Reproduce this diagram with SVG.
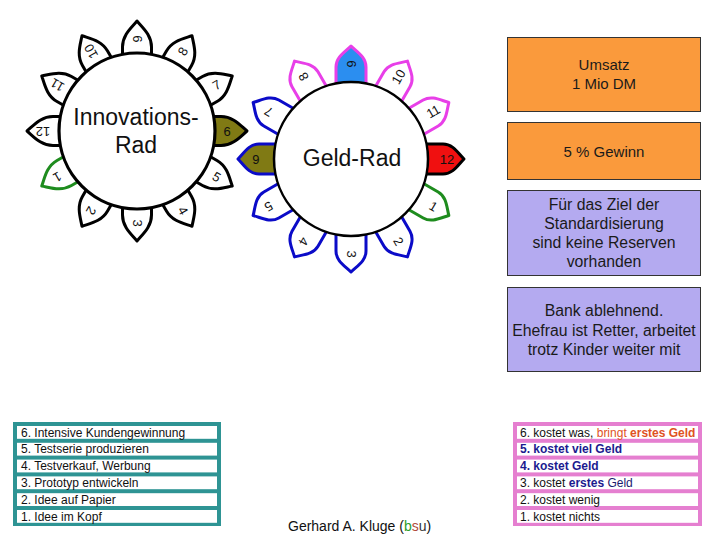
<svg xmlns="http://www.w3.org/2000/svg" width="720" height="540" viewBox="0 0 720 540">
<style>
text{font-family:"Liberation Sans",Arial,sans-serif}
.pl{fill:#fff;stroke:#000;stroke-width:3;stroke-linejoin:round}
.pg{fill:#fff;stroke:#0b0bc8;stroke-width:3;stroke-linejoin:round}
.num{font-size:13px;fill:#111;text-anchor:middle;dominant-baseline:central}
.big{font-size:23px;fill:#111;text-anchor:middle}
.box{stroke:#333;stroke-width:1}
.or{fill:#fa9a3c}
.lv{fill:#b4aaf0}
.bt{font-size:15px;fill:#1a1a1a;text-anchor:middle}
.bt2{font-size:15.8px;fill:#1a1a1a;text-anchor:middle}
.cell{fill:#fff}
.tt{font-size:12px;fill:#111}
.nv{fill:#1b1b8f;font-weight:bold}
.rd{fill:#e0521f}
</style>
<defs>
<path id="petalL" d="M40,-14.5 L84,-14.5 C96,-14.5 103,-6 110,0 C103,6 96,14.5 84,14.5 L40,14.5 Z"/>
<path id="petalG" d="M40,-15 L92,-15 C102,-15 107,-6 113,0 C107,6 102,15 92,15 L40,15 Z"/>
</defs>

<g id="innovations-rad" transform="translate(137,131)">
<use href="#petalL" class="pl" transform="rotate(150)" style="stroke:#1e8c1e"/>
<use href="#petalL" class="pl" transform="rotate(120)"/>
<use href="#petalL" class="pl" transform="rotate(90)"/>
<use href="#petalL" class="pl" transform="rotate(60)"/>
<use href="#petalL" class="pl" transform="rotate(30)"/>
<use href="#petalL" class="pl" transform="rotate(0)" style="fill:#807a14"/>
<use href="#petalL" class="pl" transform="rotate(-30)"/>
<use href="#petalL" class="pl" transform="rotate(-60)"/>
<use href="#petalL" class="pl" transform="rotate(-90)"/>
<use href="#petalL" class="pl" transform="rotate(-120)"/>
<use href="#petalL" class="pl" transform="rotate(-150)"/>
<use href="#petalL" class="pl" transform="rotate(180)"/>
<circle r="78" fill="#fff" stroke="#000" stroke-width="3.2"/>
<text class="num" transform="rotate(150) translate(92,0)">1</text>
<text class="num" transform="rotate(120) translate(92,0)">2</text>
<text class="num" transform="rotate(90) translate(92,0)">3</text>
<text class="num" transform="rotate(60) translate(92,0)">4</text>
<text class="num" transform="rotate(30) translate(92,0)">5</text>
<text class="num" transform="rotate(0) translate(90,0)">6</text>
<text class="num" transform="rotate(-30) translate(92,0)">7</text>
<text class="num" transform="rotate(-60) translate(92,0)">8</text>
<text class="num" transform="rotate(-90) translate(92,0)">9</text>
<text class="num" transform="rotate(-120) translate(92,0)">10</text>
<text class="num" transform="rotate(-150) translate(92,0)">11</text>
<text class="num" transform="rotate(180) translate(94,0)">12</text>
<text class="big" x="-1" y="-6">Innovations-</text>
<text class="big" x="-1" y="22">Rad</text>
</g>

<g id="geld-rad" transform="translate(351,159)">
<use href="#petalG" class="pg" transform="rotate(30)" style="stroke:#1e8c1e"/>
<use href="#petalG" class="pg" transform="rotate(60)"/>
<use href="#petalG" class="pg" transform="rotate(90)"/>
<use href="#petalG" class="pg" transform="rotate(120)"/>
<use href="#petalG" class="pg" transform="rotate(150)"/>
<use href="#petalG" class="pg" transform="rotate(180)" style="fill:#807a14"/>
<use href="#petalG" class="pg" transform="rotate(210)"/>
<use href="#petalG" class="pg" transform="rotate(240)" style="stroke:#e83fe8"/>
<use href="#petalG" class="pg" transform="rotate(270)" style="stroke:#e83fe8;fill:#2b8ef0"/>
<use href="#petalG" class="pg" transform="rotate(300)" style="stroke:#e83fe8"/>
<use href="#petalG" class="pg" transform="rotate(330)" style="stroke:#e83fe8"/>
<use href="#petalG" class="pg" transform="rotate(0)" style="stroke:#000;fill:#f01010"/>
<circle r="77" fill="#fff" stroke="#000" stroke-width="2.5"/>
<text class="num" transform="rotate(30) translate(95,0)">1</text>
<text class="num" transform="rotate(60) translate(95,0)">2</text>
<text class="num" transform="rotate(90) translate(95,0)">3</text>
<text class="num" transform="rotate(120) translate(95,0)">4</text>
<text class="num" transform="rotate(150) translate(95,0)">5</text>
<text class="num" transform="rotate(180) translate(95,0)">6</text>
<text class="num" transform="rotate(210) translate(95,0)">7</text>
<text class="num" transform="rotate(240) translate(95,0)">8</text>
<text class="num" transform="rotate(270) translate(95,0)">9</text>
<text class="num" transform="rotate(300) translate(95,0)">10</text>
<text class="num" transform="rotate(330) translate(95,0)">11</text>
<text class="num" transform="rotate(0) translate(96,0)">12</text>
<text class="big" x="1" y="7">Geld-Rad</text>
</g>

<g id="box-umsatz">
<rect class="box or" x="507.5" y="37.5" width="193" height="74"/>
<text class="bt" x="604" y="70">Umsatz</text>
<text class="bt" x="604" y="89">1 Mio DM</text>
</g>
<g id="box-gewinn">
<rect class="box or" x="507.5" y="122.5" width="193" height="57"/>
<text class="bt" x="604" y="157">5 % Gewinn</text>
</g>
<g id="box-reserven">
<rect class="box lv" x="507.5" y="190.5" width="193" height="85"/>
<text class="bt2" x="604" y="210">Für das Ziel der</text>
<text class="bt2" x="604" y="229">Standardisierung</text>
<text class="bt2" x="604" y="248">sind keine Reserven</text>
<text class="bt2" x="604" y="267">vorhanden</text>
</g>
<g id="box-bank">
<rect class="box lv" x="507.5" y="287.5" width="193" height="84"/>
<text class="bt2" x="604" y="316">Bank ablehnend.</text>
<text class="bt2" x="604" y="336">Ehefrau ist Retter, arbeitet</text>
<text class="bt2" x="604" y="355">trotz Kinder weiter mit</text>
</g>

<g id="table-innovation">
<rect x="13" y="422" width="208" height="104" fill="#2e9494"/>
<rect class="cell" x="17" y="426" width="200" height="12.8"/>
<rect class="cell" x="17" y="442.8" width="200" height="12.8"/>
<rect class="cell" x="17" y="459.6" width="200" height="12.8"/>
<rect class="cell" x="17" y="476.4" width="200" height="12.8"/>
<rect class="cell" x="17" y="493.2" width="200" height="12.8"/>
<rect class="cell" x="17" y="510" width="200" height="12.8"/>
<text class="tt" x="21" y="436.5">6. Intensive Kundengewinnung</text>
<text class="tt" x="21" y="453.3">5. Testserie produzieren</text>
<text class="tt" x="21" y="470.1">4. Testverkauf, Werbung</text>
<text class="tt" x="21" y="486.9">3. Prototyp entwickeln</text>
<text class="tt" x="21" y="503.7">2. Idee auf Papier</text>
<text class="tt" x="21" y="520.5">1. Idee im Kopf</text>
</g>

<g id="table-geld">
<rect x="513" y="422" width="189" height="104" fill="#e57fd0"/>
<rect class="cell" x="517" y="426" width="181" height="12.8"/>
<rect class="cell" x="517" y="442.8" width="181" height="12.8"/>
<rect class="cell" x="517" y="459.6" width="181" height="12.8"/>
<rect class="cell" x="517" y="476.4" width="181" height="12.8"/>
<rect class="cell" x="517" y="493.2" width="181" height="12.8"/>
<rect class="cell" x="517" y="510" width="181" height="12.8"/>
<text class="tt" x="520" y="436.5">6. kostet was, <tspan class="rd">bringt</tspan><tspan class="rd" font-weight="bold"> erstes Geld</tspan></text>
<text class="tt nv" x="520" y="453.3">5. kostet viel Geld</text>
<text class="tt nv" x="520" y="470.1">4. kostet Geld</text>
<text class="tt" x="520" y="486.9">3. kostet <tspan class="nv">erstes</tspan><tspan fill="#1b1b6f"> Geld</tspan></text>
<text class="tt" x="520" y="503.7">2. kostet wenig</text>
<text class="tt" x="520" y="520.5">1. kostet nichts</text>
</g>

<g id="credit">
<text x="288" y="531" font-size="14" fill="#111">Gerhard A. Kluge (<tspan fill="#2a9d2a">b</tspan><tspan fill="#b04a3a">s</tspan><tspan fill="#333">u</tspan>)</text>
</g>
<g id="connectors"/>
</svg>
